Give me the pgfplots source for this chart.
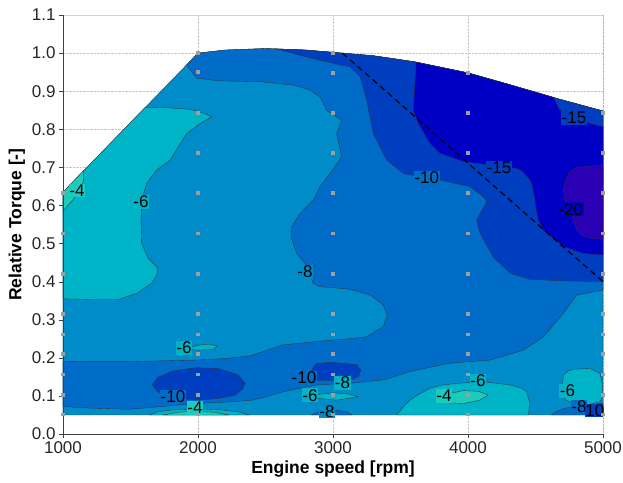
\documentclass[border=0pt]{standalone}
\usepackage{pgfplots}
\pgfplotsset{compat=1.18}
\usepackage{fontspec}
\setmainfont{Liberation Sans}
\definecolor{cA}{RGB}{26,204,190}
\definecolor{cB}{RGB}{0,180,200}
\definecolor{cC}{RGB}{0,140,200}
\definecolor{cD}{RGB}{0,108,200}
\definecolor{cE}{RGB}{0,62,192}
\definecolor{cF}{RGB}{0,0,196}
\definecolor{cG}{RGB}{42,0,180}
\tikzset{reg/.style={fill=#1, draw=black!80, line width=0.35pt},
  clab/.style={fill=#1, inner sep=0.8pt, font=\fontsize{17}{19}\selectfont}}
\begin{document}
\begin{tikzpicture}
\begin{axis}[
  scale only axis, width=540pt, height=419pt,
  xmin=1000, xmax=5000, ymin=0, ymax=1.1,
  xtick={1000,2000,3000,4000,5000},
  ytick={0,0.1,0.2,0.3,0.4,0.5,0.6,0.7,0.8,0.9,1.0,1.1},
  /pgf/number format/assume math mode=true,
  xticklabel style={/pgf/number format/1000 sep={}},
  yticklabel style={/pgf/number format/.cd,fixed,fixed zerofill,precision=1},
  scaled ticks=false,
  tick label style={font=\fontsize{17}{20}\selectfont, black!85},
  label style={font=\fontsize{17.5}{21}\selectfont\bfseries},
  xlabel={Engine speed [rpm]},
  ylabel={Relative Torque [-]},
  tick align=outside, tick pos=left, major tick length=4pt,
  tick style={black!75},
  axis line style={draw=none},
  grid=major, grid style={densely dotted, gray!45},
]
% base: -6..-8
\addplot[reg=cC] coordinates {(1000,0.05) (5000,0.05) (5000,0.848) (4657,0.881) (4300,0.918) (4000,0.948) (3607,0.977) (3300,0.993) (3000,1.002) (2800,1.008) (2500,1.012) (2200,1.008) (2000,1.0) (1000,0.635)} -- cycle;
% -8..-10
\addplot[reg=cD] coordinates {(1916,0.969) (2000,1.0) (2200,1.008) (2500,1.012) (2800,1.008) (3000,1.002) (3300,0.993) (3607,0.977) (4000,0.948) (4300,0.918) (4657,0.881) (5000,0.848)
 (5000,0.378) (4805,0.365) (4706,0.317) (4558,0.255) (4410,0.220) (4163,0.194) (3866,0.186) (3570,0.164) (3373,0.142) (3126,0.133) (2879,0.129) (2632,0.111) (2500,0.097) (2400,0.089) (2276,0.085) (1980,0.080) (1733,0.072) (1487,0.065) (1200,0.068) (1000,0.072)
 (1000,0.190) (1472,0.190) (1980,0.194) (2200,0.198) (2385,0.205) (2632,0.234) (3002,0.247) (3126,0.250) (3249,0.255) (3373,0.282) (3402,0.312) (3373,0.339) (3274,0.365) (3126,0.380) (2978,0.385) (2900,0.387) (2854,0.396) (2793,0.448) (2731,0.474) (2689,0.518) (2694,0.544) (2756,0.579) (2854,0.614) (2904,0.649) (2978,0.684) (3064,0.728) (3027,0.789) (3064,0.824) (2953,0.850) (2904,0.885) (2830,0.903) (2706,0.916) (2459,0.925) (2163,0.927) (1990,0.934)} -- cycle;
% -10..-15 upper right
\addplot[reg=cE] coordinates {(2583,1.011) (2800,1.008) (3000,1.002) (3300,0.993) (3607,0.977) (4000,0.948) (4300,0.918) (4657,0.881) (5000,0.848) (5000,0.400) (4706,0.402) (4459,0.406) (4311,0.422) (4187,0.465) (4089,0.527) (4064,0.562) (4100,0.585) (4139,0.610) (4113,0.623) (4015,0.649) (3792,0.667) (3650,0.675) (3521,0.684) (3398,0.719) (3298,0.789) (3249,0.877) (3200,0.938) (3126,0.964) (3052,0.969) (2800,0.990)} -- cycle;
% -15..-20
\addplot[reg=cF] coordinates {(3615,0.976) (4000,0.948) (4300,0.918) (4632,0.884) (4681,0.850) (4800,0.830) (4904,0.815) (5000,0.807) (5000,0.470) (4854,0.474) (4706,0.492) (4557,0.535) (4520,0.562) (4500,0.600) (4496,0.614) (4480,0.645) (4459,0.667) (4400,0.690) (4360,0.697) (4200,0.705) (3965,0.715) (3792,0.737) (3718,0.763) (3632,0.815) (3595,0.850) (3607,0.920)} -- cycle;
% < -20
\addplot[reg=cG] coordinates {(5000,0.706) (4900,0.703) (4805,0.700) (4750,0.686) (4720,0.662) (4706,0.640) (4718,0.614) (4760,0.585) (4780,0.562) (4805,0.537) (4850,0.520) (4904,0.514) (5000,0.511)} -- cycle;
% left cyan region
\addplot[reg=cB] coordinates {(1000,0.355) (1224,0.353) (1410,0.353) (1546,0.369) (1657,0.396) (1701,0.422) (1694,0.439) (1632,0.461) (1583,0.500) (1578,0.562) (1583,0.614) (1620,0.658) (1694,0.693) (1793,0.719) (1854,0.754) (1916,0.789) (2015,0.815) (2101,0.833) (2000,0.848) (1916,0.853) (1750,0.857) (1607,0.857) (1000,0.635)} -- cycle;
% top-left turquoise corner
\addplot[reg=cA] coordinates {(1000,0.635) (1155,0.692) (1150,0.662) (1120,0.637) (1076,0.616) (1000,0.585)} -- cycle;
% small cyan blob near 2000
\addplot[reg=cB] coordinates {(1930,0.226) (2000,0.233) (2080,0.236) (2140,0.231) (2120,0.223) (2000,0.220) (1950,0.222)} -- cycle;
% dark blobs in band
\addplot[reg=cE] coordinates {(1659,0.129) (1700,0.112) (1733,0.104) (1850,0.094) (1980,0.089) (2150,0.093) (2276,0.102) (2330,0.118) (2350,0.133) (2300,0.155) (2153,0.172) (1980,0.174) (1807,0.165) (1700,0.148)} -- cycle;
\addplot[reg=cE] coordinates {(2830,0.160) (2860,0.178) (2879,0.186) (3000,0.188) (3175,0.182) (3205,0.168) (3190,0.152) (3150,0.144) (3000,0.141) (2879,0.141) (2840,0.148)} -- cycle;
% bottom near 2000: cyan + turquoise
\addplot[reg=cB] coordinates {(1640,0.05) (1700,0.058) (1807,0.063) (1980,0.066) (2150,0.064) (2300,0.058) (2380,0.05)} -- cycle;
\addplot[reg=cA] coordinates {(1740,0.05) (1850,0.057) (1980,0.060) (2120,0.057) (2230,0.05)} -- cycle;
% cyan sliver near 3000
\addplot[reg=cB] coordinates {(2830,0.100) (2891,0.104) (3002,0.108) (3100,0.106) (3187,0.098) (3100,0.093) (3027,0.089) (2900,0.093)} -- cycle;
% -8..-10 cap at bottom near 3000
\addplot[reg=cD] coordinates {(2840,0.05) (2900,0.059) (3000,0.063) (3100,0.059) (3140,0.05)} -- cycle;
% cyan bottom near 4000
\addplot[reg=cB] coordinates {(3472,0.05) (3530,0.075) (3570,0.089) (3640,0.105) (3718,0.120) (3800,0.128) (3916,0.133) (4113,0.137) (4311,0.129) (4400,0.120) (4434,0.111) (4459,0.080) (4447,0.05)} -- cycle;
\addplot[reg=cA] coordinates {(3768,0.089) (3850,0.105) (3965,0.114) (4080,0.112) (4150,0.102) (4080,0.088) (3965,0.080) (3850,0.082)} -- cycle;
% right cyan blob
\addplot[reg=cB] coordinates {(4706,0.155) (4740,0.165) (4780,0.170) (4904,0.172) (4978,0.159) (4995,0.130) (4990,0.092) (4978,0.085) (4879,0.076) (4780,0.080) (4720,0.090) (4706,0.102) (4700,0.130)} -- cycle;
% bottom right -8..-10 and -10..-15
\addplot[reg=cD] coordinates {(4620,0.05) (4650,0.058) (4706,0.067) (4800,0.072) (4879,0.074) (5000,0.082) (5000,0.05)} -- cycle;
\addplot[reg=cE] coordinates {(4880,0.05) (4950,0.065) (5000,0.072) (5000,0.05)} -- cycle;
% dashed line
\addplot[black, line width=1.2pt, dash pattern=on 6pt off 4pt] coordinates {(3070,1.0) (5000,0.40)};
% measurement points
\addplot[only marks, mark=square*, mark size=1.4pt, color=gray!75] coordinates {
 (1000,0.052) (1000,0.104) (1000,0.157) (1000,0.210) (1000,0.262) (1000,0.315) (1000,0.420) (1000,0.527) (1000,0.633)
 (2000,0.052) (2000,0.104) (2000,0.157) (2000,0.210) (2000,0.262) (2000,0.315) (2000,0.420) (2000,0.527) (2000,0.633) (2000,0.738) (2000,0.843) (2000,0.951) (2000,1.0)
 (3000,0.052) (3000,0.104) (3000,0.157) (3000,0.210) (3000,0.262) (3000,0.315) (3000,0.420) (3000,0.527) (3000,0.633) (3000,0.738) (3000,0.843) (3000,0.948) (3000,1.002)
 (4000,0.052) (4000,0.104) (4000,0.157) (4000,0.210) (4000,0.262) (4000,0.315) (4000,0.420) (4000,0.527) (4000,0.633) (4000,0.738) (4000,0.843) (4000,0.948)
 (5000,0.052) (5000,0.104) (5000,0.157) (5000,0.210) (5000,0.262) (5000,0.315) (5000,0.420) (5000,0.527) (5000,0.633) (5000,0.738) (5000,0.843)};
% contour labels
\node[clab=cA] at (axis cs:1104,0.64) {-4};
\node[clab=cB] at (axis cs:1578,0.609) {-6};
\node[clab=cC] at (axis cs:2793,0.426) {-8};
\node[clab=cD] at (axis cs:3694,0.673) {-10};
\node[clab=cE] at (axis cs:4230,0.700) {-15};
\node[clab=cE] at (axis cs:4785,0.829) {-15};
\node[clab=cF] at (axis cs:4761,0.590) {-20};
\node[clab=cB] at (axis cs:1896,0.226) {-6};
\node[clab=cD] at (axis cs:1815,0.097) {-10};
\node[clab=cA] at (axis cs:1978,0.068) {-4};
\node[clab=cD] at (axis cs:2785,0.148) {-10};
\node[clab=cB] at (axis cs:3070,0.134) {-8};
\node[clab=cB] at (axis cs:2830,0.102) {-6};
\node[clab=cC] at (axis cs:2955,0.060) {-8};
\node[clab=cA] at (axis cs:3822,0.100) {-4};
\node[clab=cB] at (axis cs:4074,0.139) {-6};
\node[clab=cB] at (axis cs:4737,0.113) {-6};
\node[clab=cD] at (axis cs:4822,0.071) {-8};
\node[clab=cE] at (axis cs:4940,0.062) {10};
% frame
\draw[gray!35] (rel axis cs:0,1) -- (rel axis cs:1,1);
\draw[black!75, line width=0.8pt] (rel axis cs:0,0) -- (rel axis cs:0,1);
\draw[black!75, line width=0.8pt] (rel axis cs:1,0) -- (rel axis cs:1,1);
\draw[black!75, line width=0.8pt] (rel axis cs:0,0) -- (rel axis cs:1,0);
\end{axis}
\pgfresetboundingbox
\path[use as bounding box] ([shift={(-63pt,-48pt)}]current axis.south west) rectangle ([shift={(20pt,15pt)}]current axis.north east);
\end{tikzpicture}
\end{document}
